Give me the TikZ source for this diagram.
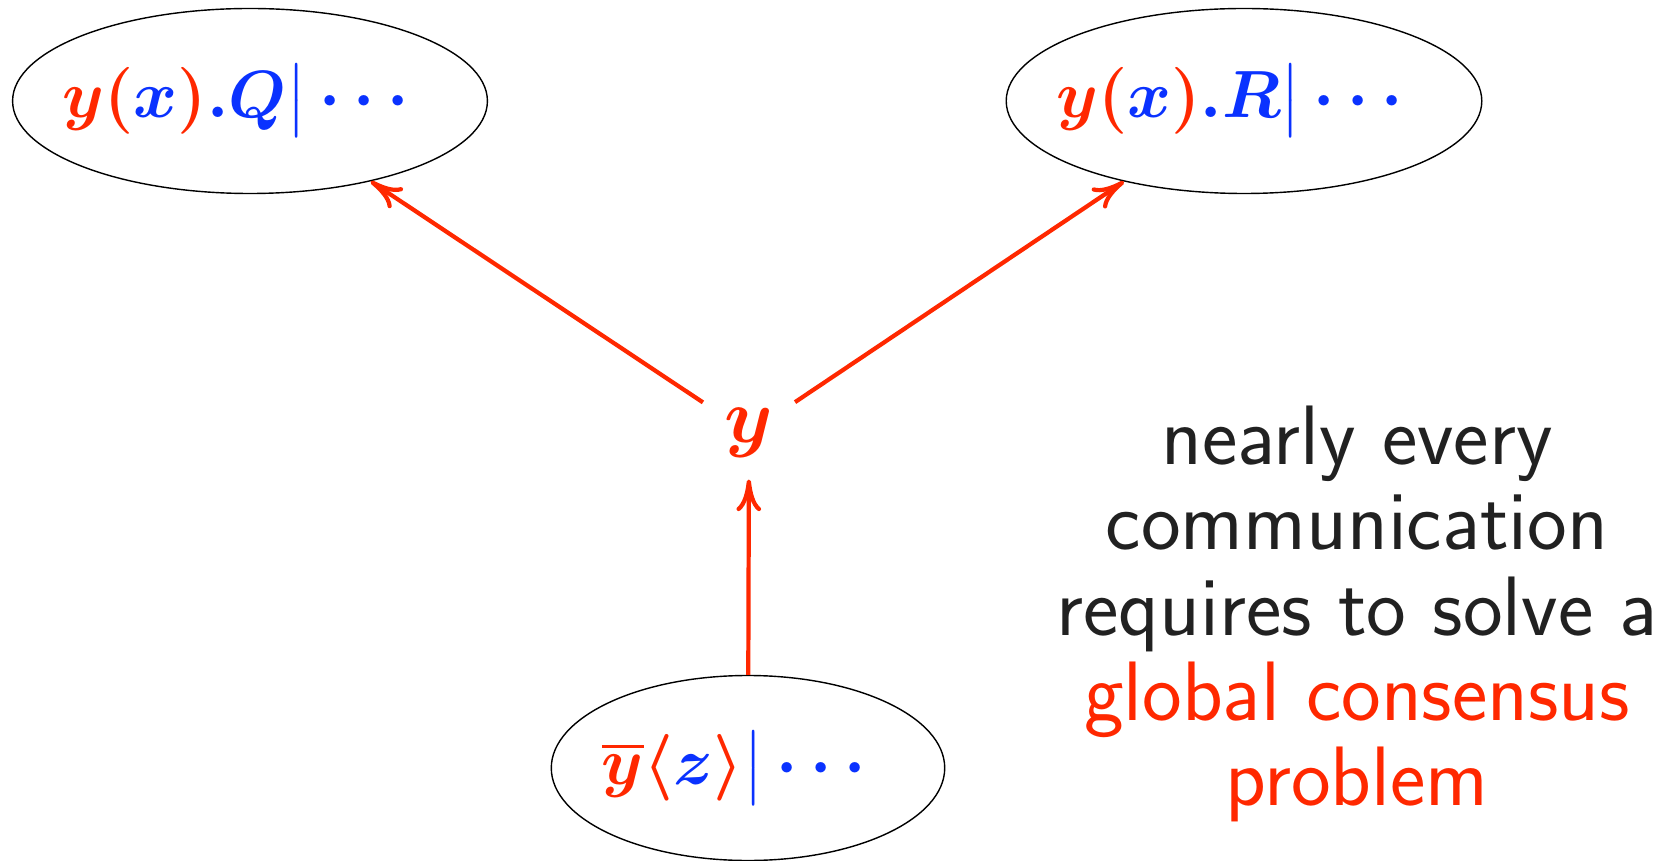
\RequirePackage{fix-cm}
\documentclass[tikz,border=0pt]{standalone}
\usepackage{amsmath}
\usetikzlibrary{arrows.meta,shapes.geometric}
\definecolor{pired}{RGB}{255,40,0}
\definecolor{piblue}{RGB}{10,50,255}
\newcommand{\rd}[1]{\textcolor{pired}{#1}}
\newcommand{\bl}[1]{\textcolor{piblue}{#1}}

\begin{document}
\begin{tikzpicture}[every node/.style={font=\fontsize{19}{24}\selectfont},
  proc/.style={draw,thin,ellipse,minimum width=4.74cm,minimum height=1.85cm,inner xsep=-5.5pt,inner ysep=0pt,font=\fontsize{19}{24}\selectfont\boldmath},
  comm/.style={-{To[length=9pt,width=7pt]},pired,line width=1.2pt}]
  \useasboundingbox (0,0) rectangle (16.66,8.6);
  \node[proc] (pq) at (2.50,7.59) {$\rd{y(}\bl{x}\rd{)}\bl{.Q\big|\cdots}\hspace{8pt}$};
  \node[proc] (pr) at (12.44,7.59) {$\rd{y(}\bl{x}\rd{)}\bl{.R\big|\cdots}\hspace{8pt}$};
  \node[proc,minimum width=3.92cm,inner xsep=-2pt] (ps) at (7.48,0.92) {$\rd{\overline{y}\langle}\bl{z}\rd{\rangle}\bl{\big|\cdots}\hspace{8pt}$};
  \node[font=\fontsize{22}{24}\selectfont\boldmath,inner sep=6pt] (ch) at (7.49,4.27) {$\rd{y}$};
  \draw[comm] (ps) -- (ch);
  \draw[comm] (ch) -- (pq);
  \draw[comm] (ch) -- (pr);
  \node[align=center,text=black!87,font=\fontsize{24}{24.2}\selectfont\sffamily] (note) at (13.57,2.46)
    {nearly every\\communication\\requires to solve a\\\rd{global consensus}\\\rd{problem}};
\end{tikzpicture}
\end{document}
